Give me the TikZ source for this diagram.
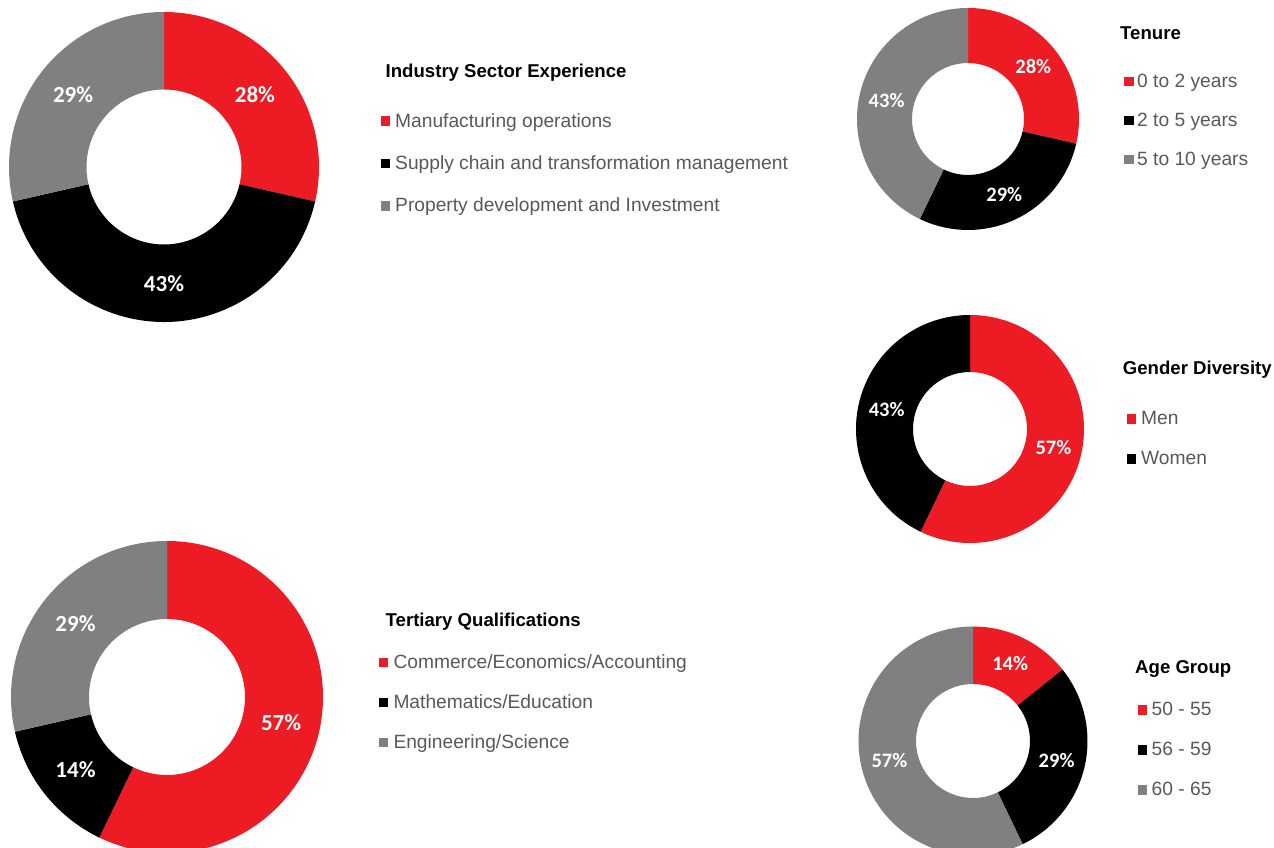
\documentclass[tikz,border=0pt]{standalone}
\usepackage{fontspec}
\setmainfont{Liberation Sans}
\newfontfamily\pctfont{Carlito}
\definecolor{cred}{HTML}{ED1C24}
\definecolor{cblack}{HTML}{000000}
\definecolor{cgray}{HTML}{808080}
\definecolor{ctext}{HTML}{595959}
\tikzset{
  pctbig/.style={text=white, font=\pctfont\bfseries\fontsize{23}{23}\selectfont, inner sep=0},
  pctsmall/.style={text=white, font=\pctfont\bfseries\fontsize{20.5}{20.5}\selectfont, inner sep=0},
  legtitle/.style={anchor=base west, inner sep=0, text=black, font=\bfseries\fontsize{18.6}{18.6}\selectfont},
  legitem/.style={anchor=base west, inner sep=0, text=ctext, font=\fontsize{19.2}{19.2}\selectfont},
  sq/.style={anchor=south west, inner sep=0, minimum width=9.5pt, minimum height=9.5pt},
}
\begin{document}
\begin{tikzpicture}[x=1pt,y=1pt]
\useasboundingbox[fill=white] (0,0) rectangle (1274,848);

% ---------- Industry Sector Experience ----------
\begin{scope}[shift={(164,681)}]
  \def\R{155}\def\r{77.5}
  \fill[cred] (90:\R) arc[start angle=90,end angle=-12.857,radius=\R] -- (-12.857:\r) arc[start angle=-12.857,end angle=90,radius=\r] -- cycle;
  \fill[cblack] (-12.857:\R) arc[start angle=-12.857,end angle=-167.143,radius=\R] -- (-167.143:\r) arc[start angle=-167.143,end angle=-12.857,radius=\r] -- cycle;
  \fill[cgray] (-167.143:\R) arc[start angle=-167.143,end angle=-270,radius=\R] -- (-270:\r) arc[start angle=-270,end angle=-167.143,radius=\r] -- cycle;
  \node[pctbig] (i1) at (38.571:116.25) {28\%};
  \node[pctbig] (i2) at (-90:116.25) {43\%};
  \node[pctbig] (i3) at (141.429:116.25) {29\%};
\end{scope}
\node[legtitle] (it) at (385.5,770.7) {Industry Sector Experience};
\node[sq,fill=cred]   (is1) at (380.5,721.8) {};
\node[sq,fill=cblack] (is2) at (380.5,679.5) {};
\node[sq,fill=cgray]  (is3) at (380.5,637.1) {};
\node[legitem] (il1) at (395,720.7) {Manufacturing operations};
\node[legitem] (il2) at (395,678.4) {Supply chain and transformation management};
\node[legitem] (il3) at (395,636) {Property development and Investment};

% ---------- Tenure ----------
\begin{scope}[shift={(968,729)}]
  \def\R{111}\def\r{56}
  \fill[cred] (90:\R) arc[start angle=90,end angle=-12.857,radius=\R] -- (-12.857:\r) arc[start angle=-12.857,end angle=90,radius=\r] -- cycle;
  \fill[cblack] (-12.857:\R) arc[start angle=-12.857,end angle=-115.714,radius=\R] -- (-115.714:\r) arc[start angle=-115.714,end angle=-12.857,radius=\r] -- cycle;
  \fill[cgray] (-115.714:\R) arc[start angle=-115.714,end angle=-270,radius=\R] -- (-270:\r) arc[start angle=-270,end angle=-115.714,radius=\r] -- cycle;
  \node[pctsmall] (t1) at (38.571:83.5) {28\%};
  \node[pctsmall] (t2) at (-64.286:83.5) {29\%};
  \node[pctsmall] (t3) at (167.143:83.5) {43\%};
\end{scope}
\node[legtitle] (tt) at (1120,808.7) {Tenure};
\node[sq,fill=cred]   (ts1) at (1124,761.7) {};
\node[sq,fill=cblack] (ts2) at (1124,722.3) {};
\node[sq,fill=cgray]  (ts3) at (1124,683.3) {};
\node[legitem] (tl1) at (1137,760.7) {0 to 2 years};
\node[legitem] (tl2) at (1137,721.3) {2 to 5 years};
\node[legitem] (tl3) at (1137,682.3) {5 to 10 years};

% ---------- Gender Diversity ----------
\begin{scope}[shift={(970,419)}]
  \def\R{114}\def\r{57}
  \fill[cred] (90:\R) arc[start angle=90,end angle=-115.714,radius=\R] -- (-115.714:\r) arc[start angle=-115.714,end angle=90,radius=\r] -- cycle;
  \fill[cblack] (-115.714:\R) arc[start angle=-115.714,end angle=-270,radius=\R] -- (-270:\r) arc[start angle=-270,end angle=-115.714,radius=\r] -- cycle;
  \node[pctsmall] (g1) at (-12.857:85.5) {57\%};
  \node[pctsmall] (g2) at (167.143:85.5) {43\%};
\end{scope}
\node[legtitle] (gt) at (1122.7,473) {Gender Diversity};
\node[sq,fill=cred]   (gs1) at (1126.5,424) {};
\node[sq,fill=cblack] (gs2) at (1126.5,384) {};
\node[legitem] (gl1) at (1141,423) {Men};
\node[legitem] (gl2) at (1141,383) {Women};

% ---------- Tertiary Qualifications ----------
\begin{scope}[shift={(167,151)}]
  \def\R{156}\def\r{78}
  \fill[cred] (90:\R) arc[start angle=90,end angle=-115.714,radius=\R] -- (-115.714:\r) arc[start angle=-115.714,end angle=90,radius=\r] -- cycle;
  \fill[cblack] (-115.714:\R) arc[start angle=-115.714,end angle=-167.143,radius=\R] -- (-167.143:\r) arc[start angle=-167.143,end angle=-115.714,radius=\r] -- cycle;
  \fill[cgray] (-167.143:\R) arc[start angle=-167.143,end angle=-270,radius=\R] -- (-270:\r) arc[start angle=-270,end angle=-167.143,radius=\r] -- cycle;
  \node[pctbig] (q1) at (-12.857:117) {57\%};
  \node[pctbig] (q2) at (-141.429:117) {14\%};
  \node[pctbig] (q3) at (141.429:117) {29\%};
\end{scope}
\node[legtitle] (qt) at (385.5,221.3) {Tertiary Qualifications};
\node[sq,fill=cred]   (qs1) at (378.5,180.7) {};
\node[sq,fill=cblack] (qs2) at (378.5,140.7) {};
\node[sq,fill=cgray]  (qs3) at (378.5,100.7) {};
\node[legitem] (ql1) at (393.3,179.7) {Commerce/Economics/Accounting};
\node[legitem] (ql2) at (393.3,139.7) {Mathematics/Education};
\node[legitem] (ql3) at (393.3,99.7) {Engineering/Science};

% ---------- Age Group ----------
\begin{scope}[shift={(973,107)}]
  \def\R{114.5}\def\r{57}
  \fill[cred] (90:\R) arc[start angle=90,end angle=38.571,radius=\R] -- (38.571:\r) arc[start angle=38.571,end angle=90,radius=\r] -- cycle;
  \fill[cblack] (38.571:\R) arc[start angle=38.571,end angle=-64.286,radius=\R] -- (-64.286:\r) arc[start angle=-64.286,end angle=38.571,radius=\r] -- cycle;
  \fill[cgray] (-64.286:\R) arc[start angle=-64.286,end angle=-270,radius=\R] -- (-270:\r) arc[start angle=-270,end angle=-64.286,radius=\r] -- cycle;
  \node[pctsmall] (a1) at (64.286:85.75) {14\%};
  \node[pctsmall] (a2) at (-12.857:85.75) {29\%};
  \node[pctsmall] (a3) at (192.857:85.75) {57\%};
\end{scope}
\node[legtitle] (at) at (1135,174.7) {Age Group};
\node[sq,fill=cred]   (as1) at (1137.5,133) {};
\node[sq,fill=cblack] (as2) at (1137.5,93) {};
\node[sq,fill=cgray]  (as3) at (1137.5,53) {};
\node[legitem] (al1) at (1151.5,132) {50 - 55};
\node[legitem] (al2) at (1151.5,92) {56 - 59};
\node[legitem] (al3) at (1151.5,52) {60 - 65};
\end{tikzpicture}
\end{document}
